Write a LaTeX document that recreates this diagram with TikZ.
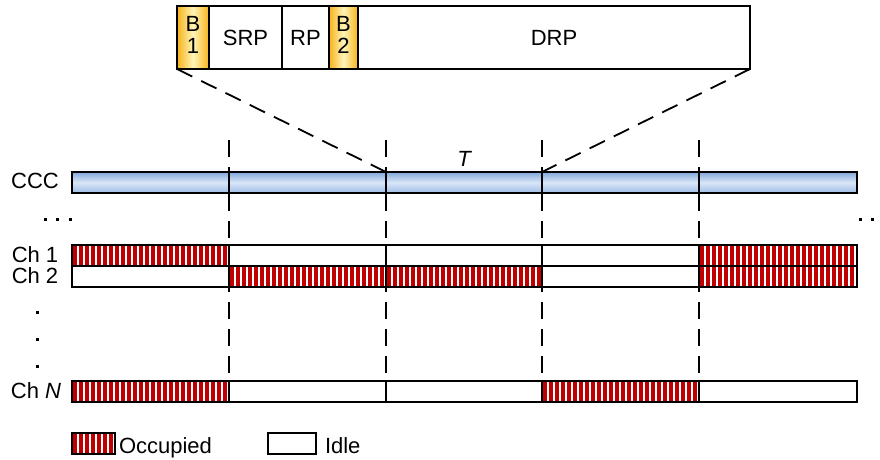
\documentclass[tikz,border=0pt]{standalone}
\usepackage{fontspec}
\setmainfont{Liberation Sans}
\definecolor{occred}{HTML}{C00000}
\definecolor{bEdge}{HTML}{F6B21A}
\definecolor{bMid}{HTML}{FFF5B8}
\definecolor{cccTop}{HTML}{82A8DC}
\definecolor{cccMid}{HTML}{DAE6F6}
\definecolor{cccBot}{HTML}{9EBDE6}
\begin{document}
\begin{tikzpicture}[x=1pt,y=-1pt,
  every node/.style={inner sep=0pt, outer sep=0pt},
  lbl/.style={font=\fontsize{22}{22}\selectfont, anchor=base},
  cell/.style={draw, line width=1.8pt, anchor=north west,
    minimum height=21pt, minimum width=#1},
  idle/.style={cell=#1, fill=white},
  occ/.style={cell=#1, fill=white, path picture={
      \foreach \k in {0,...,27}
        \fill[occred] ([xshift=\k*6pt+1pt]path picture bounding box.south west)
          rectangle ++(3.8pt,30pt);}},
  ccc/.style={cell=#1, top color=cccTop, bottom color=cccBot, middle color=cccMid},
  topcell/.style={draw, line width=1.8pt, anchor=north west,
    minimum height=63pt, minimum width=#1, fill=white,
    font=\fontsize{22}{22}\selectfont},
  bcell/.style={topcell=#1, left color=bEdge, right color=bEdge, middle color=bMid},
  vdash/.style={line width=1.8pt, dash pattern=on 17pt off 10pt},
  ddash/.style={line width=1.8pt, dash pattern=on 17pt off 10pt},
  dot/.style={fill=black}
]
\useasboundingbox (0,0) rectangle (880,460);

% upper ends of the slot boundaries
\coordinate (v1) at (229,140);
\coordinate (v2) at (386,140);
\coordinate (v3) at (542,140);
\coordinate (v4) at (699,140);

% channel N row (its cells fix the lower ends of the boundaries)
\node[occ=157pt]  (n1) at (72,381) {};
\node[idle=157pt] (n2) at (n1.north east) {};
\node[idle=156pt] (n3) at (n2.north east) {};
\node[occ=157pt]  (n4) at (n3.north east) {};
\node[idle=158pt] (n5) at (n4.north east) {};

% slot boundaries
\draw[vdash] (v1) -- (n2.north west);
\draw[vdash] (v2) -- (n3.north west);
\draw[vdash] (v3) -- (n4.north west);
\draw[vdash] (v4) -- (n5.north west);

% control channel
\node[ccc=157pt] (c1) at (72,172) {};
\node[ccc=157pt] (c2) at (c1.north east) {};
\node[ccc=156pt] (c3) at (c2.north east) {};
\node[ccc=157pt] (c4) at (c3.north east) {};
\node[ccc=158pt] (c5) at (c4.north east) {};

% channel 1
\node[occ=157pt]  (a1) at (72,245) {};
\node[idle=157pt] (a2) at (a1.north east) {};
\node[idle=156pt] (a3) at (a2.north east) {};
\node[idle=157pt] (a4) at (a3.north east) {};
\node[occ=158pt]  (a5) at (a4.north east) {};

% channel 2
\node[idle=157pt] (b1c) at (72,266) {};
\node[occ=157pt]  (b2c) at (b1c.north east) {};
\node[occ=156pt]  (b3c) at (b2c.north east) {};
\node[idle=157pt] (b4c) at (b3c.north east) {};
\node[occ=158pt]  (b5c) at (b4c.north east) {};

% frame structure of one slot
\node[bcell=32pt]    (bb1) at (177,6) {};
\node[topcell=73pt]  (srp) at (bb1.north east) {SRP};
\node[topcell=47pt]  (rp)  at (srp.north east) {RP};
\node[bcell=29pt]    (bb2) at (rp.north east) {};
\node[topcell=392pt] (drp) at (bb2.north east) {DRP};
\node[lbl, anchor=center, align=center] (bb1t) at ([yshift=2.5pt]bb1.center) {B\\1};
\node[lbl, anchor=center, align=center] (bb2t) at ([yshift=2.5pt]bb2.center) {B\\2};

% zoom lines
\draw[ddash] (bb1.south west) -- (c3.north west);
\draw[ddash] (drp.south east) -- (c4.north west);

% labels
\node[lbl] (tT)   at (464,166) {\itshape T};
\node[lbl] (lccc) at (35,188.5) {CCC};
\node[lbl] (l1)   at (35,262) {Ch 1};
\node[lbl] (l2)   at (35,283.5) {Ch 2};
\node[lbl] (lN)   at (36,398.5) {Ch \itshape N};

% ellipses
\foreach \x in {45,57,70,860,872}
  \fill[dot] (\x-1.5,217.5) rectangle ++(3,3);
\foreach \y in {312,339,366}
  \fill[dot] (35.5,\y-1.5) rectangle ++(3,3);

% legend
\node[occ=43pt]  (legocc)  at (72,433) {};
\node[lbl, anchor=base west] (legocct) at ([xshift=4pt,yshift=-10pt]legocc.east) {Occupied};
\node[idle=48pt] (legidle) at (268,433) {};
\node[lbl, anchor=base west] (legidlet) at ([xshift=9pt,yshift=-10pt]legidle.east) {Idle};
\end{tikzpicture}
\end{document}
